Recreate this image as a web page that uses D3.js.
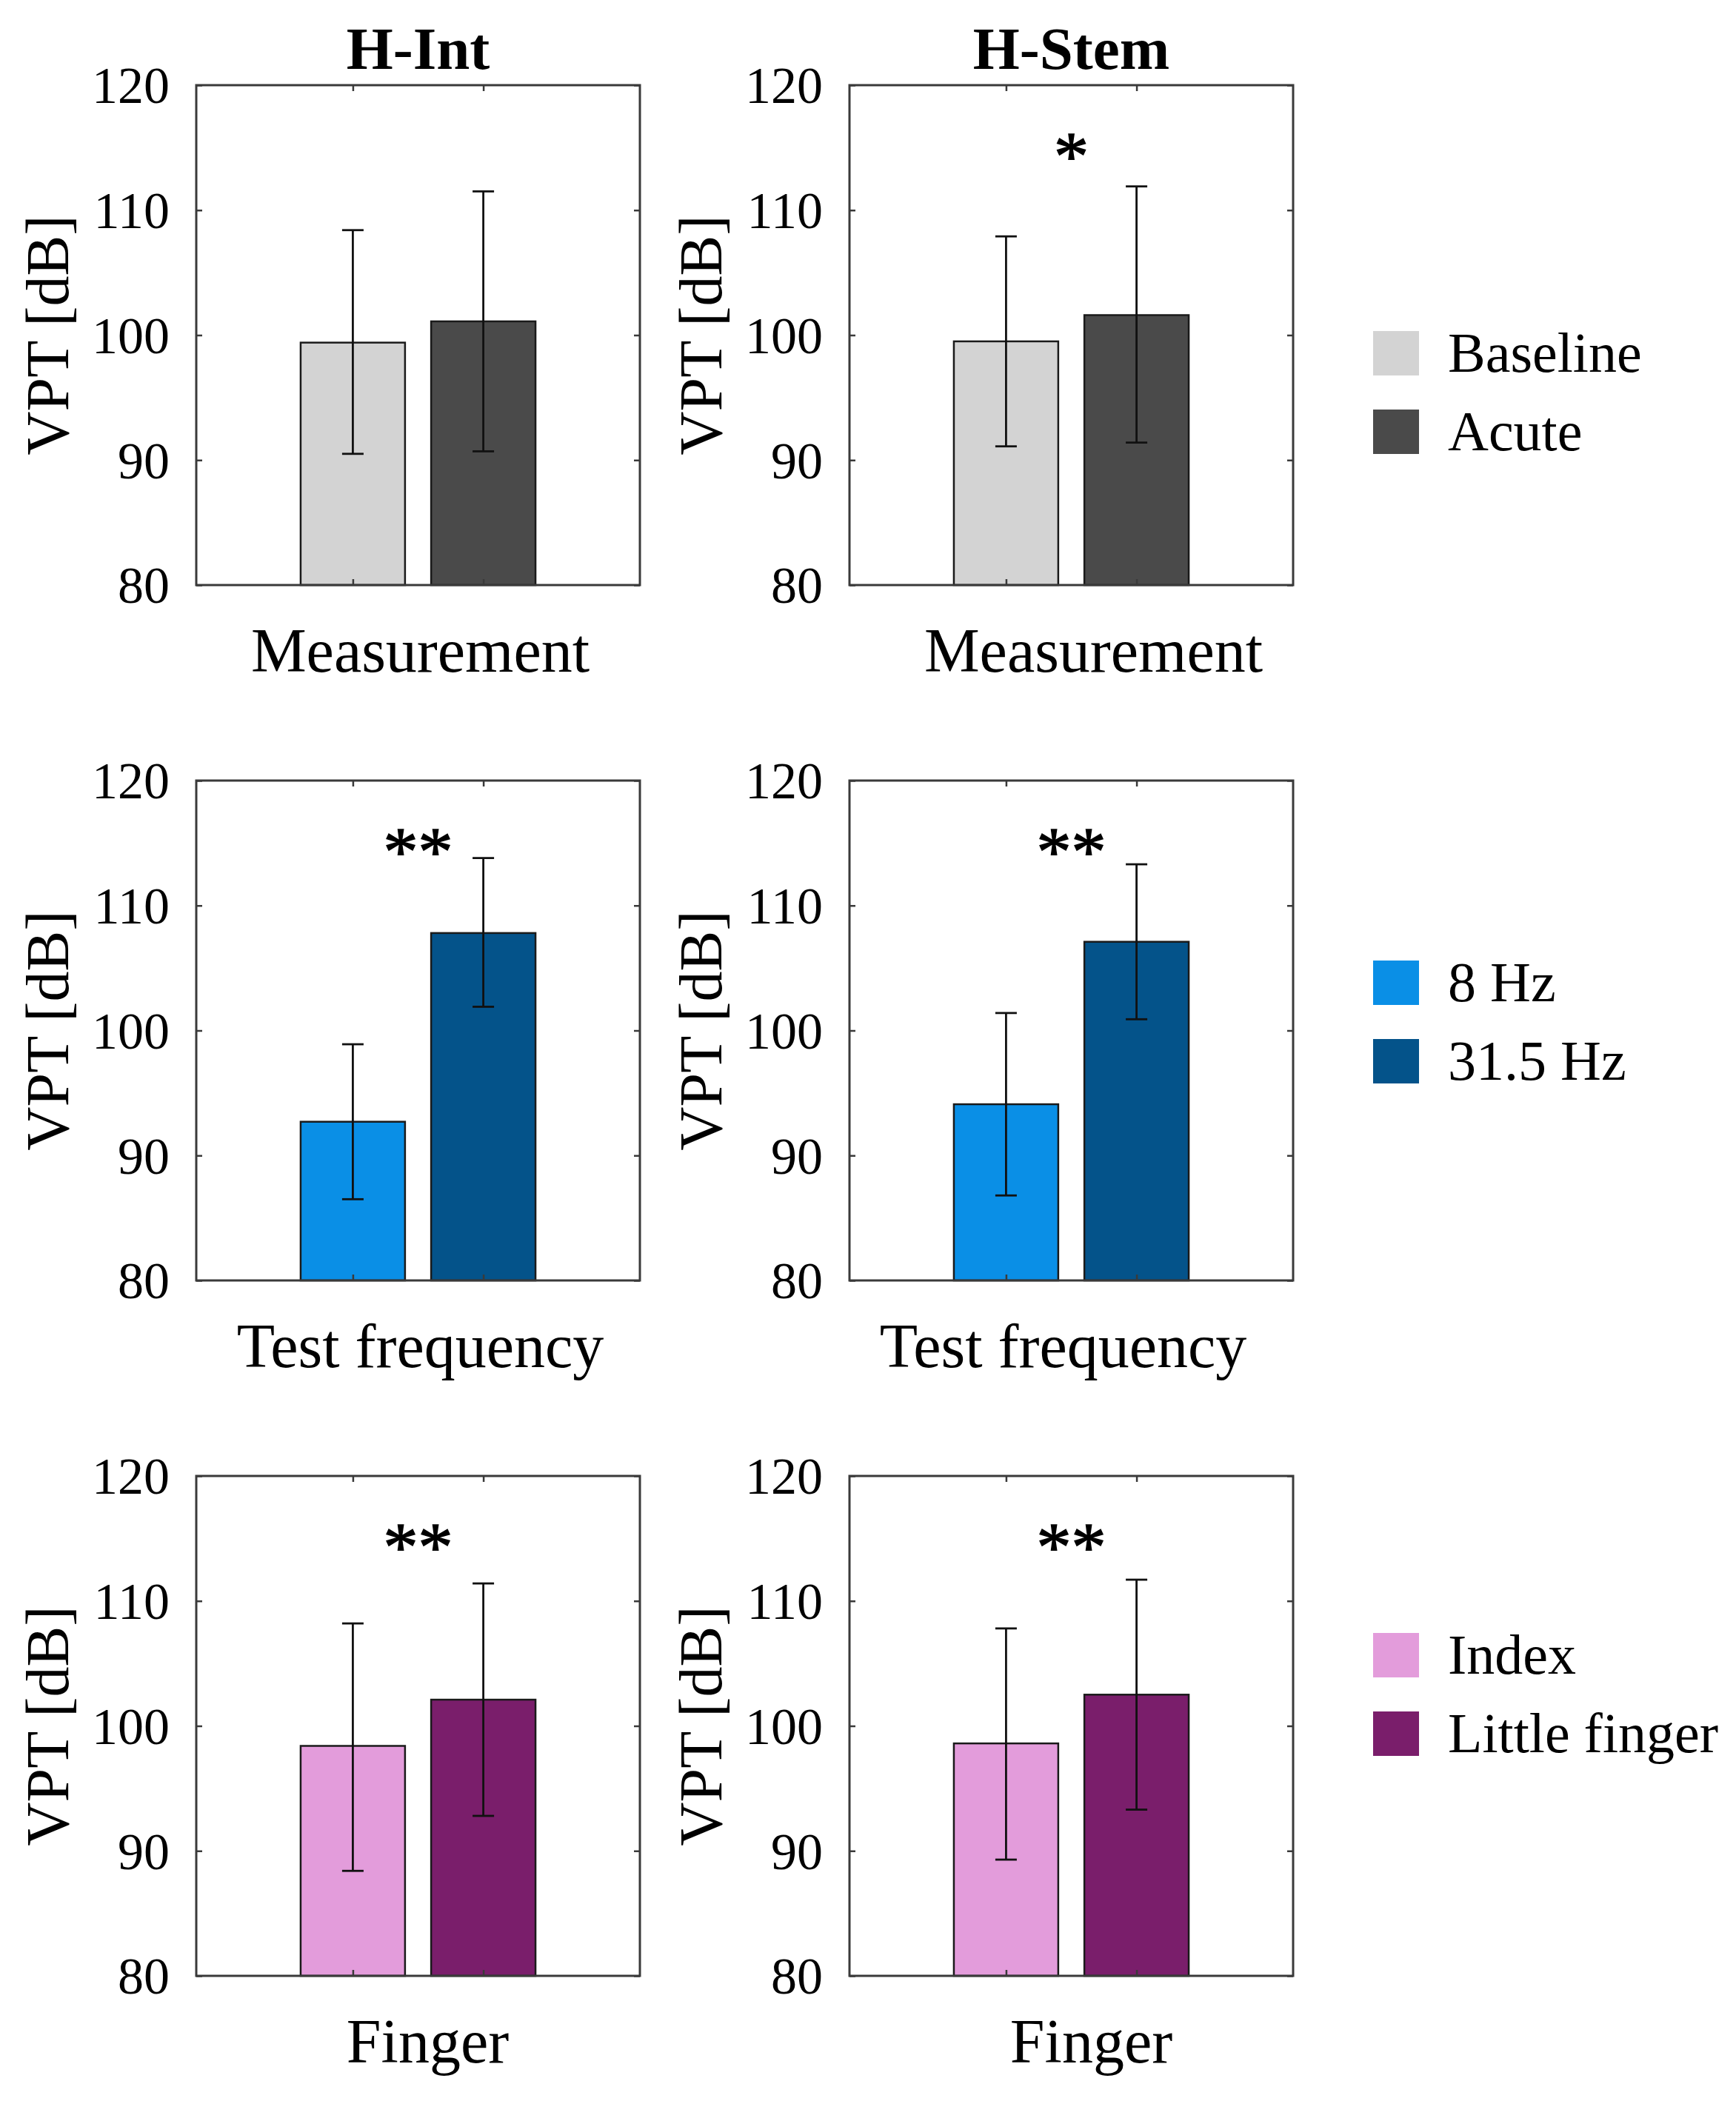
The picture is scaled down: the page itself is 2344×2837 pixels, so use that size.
<!DOCTYPE html>
<html>
<head>
<meta charset="utf-8">
<script src="https://cdn.jsdelivr.net/npm/d3@7"></script>
<style>
  html, body { margin: 0; padding: 0; background: #fff; }
  svg { display: block; }
  text { font-family: "Liberation Serif", "Times New Roman", serif; fill: #000; }
</style>
</head>
<body>
<svg id="chart" width="2344" height="2837"></svg>
<script>
// ---------------- DATA ----------------
const groups = ["H-Int", "H-Stem"];
const factors = ["Measurement", "Test frequency", "Finger"];
const seriesLabels = [["Baseline", "Acute"], ["8 Hz", "31.5 Hz"], ["Index", "Little finger"]];
const seriesColors = [["#d3d3d3", "#4a4a4a"], ["#0a8fe6", "#04538a"], ["#e39cdb", "#7a1e6b"]];
const yTicks = [80, 90, 100, 110, 120];

// mean values (rows = factor, cols = series)
const hIntMeans  = [[99.4, 101.1], [92.7, 107.8], [98.4, 102.1]];
const hIntLower  = [[90.5, 90.7],  [86.5, 101.9], [88.4, 92.8]];
const hIntUpper  = [[108.4, 111.5],[98.9, 113.8], [108.2, 111.4]];
const hStemMeans = [[99.5, 101.6], [94.1, 107.1], [98.6, 102.5]];
const hStemLower = [[91.1, 91.4],  [86.8, 100.9], [89.3, 93.3]];
const hStemUpper = [[107.9, 111.9],[101.4, 113.3],[107.8, 111.7]];
const hIntStars  = ["", "**", "**"];
const hStemStars = ["*", "**", "**"];
const starLevel = 115.1;

// ---------------- LAYOUT ----------------
const colLeft = [265, 1147];
const axW = 599;
const rowTop = [115, 1054, 1993];
const axH = 675;
const xLabelShift = [[3, 30], [3, -11], [13, 27]];
const legendCenters = [[477, 583], [1327, 1433], [2235, 2341]];
const legendSwatchX = 1854, legendTextX = 1955;
const serif = "'Liberation Serif', 'Times New Roman', serif";

const svg = d3.select("#chart");
svg.append("rect").attr("width", 2344).attr("height", 2837).attr("fill", "#fff");

const means = [hIntMeans, hStemMeans];
const lowers = [hIntLower, hStemLower];
const uppers = [hIntUpper, hStemUpper];
const stars = [hIntStars, hStemStars];

const axisColor = "#3a3a3a";

factors.forEach((factor, r) => {
  groups.forEach((grp, c) => {
    const x0 = colLeft[c], y0 = rowTop[r];
    const g = svg.append("g").attr("transform", `translate(${x0},${y0})`);
    const x = d3.scaleLinear().domain([-0.2, 3.2]).range([0, axW]);
    const y = d3.scaleLinear().domain([80, 120]).range([axH, 0]);
    const positions = [1, 2];
    const barW = x(0.8) - x(0);

    const data = positions.map((p, i) => ({
      pos: p,
      mean: means[c][r][i],
      lo: lowers[c][r][i],
      hi: uppers[c][r][i],
      color: seriesColors[r][i]
    }));

    // bars
    g.selectAll("rect.bar").data(data).enter().append("rect")
      .attr("class", "bar")
      .attr("x", d => x(d.pos) - barW / 2)
      .attr("width", barW)
      .attr("y", d => y(d.mean))
      .attr("height", d => y(80) - y(d.mean))
      .attr("fill", d => d.color)
      .attr("stroke", "#1a1a1a")
      .attr("stroke-width", 2.5);

    // error bars
    const capW = 29;
    const eb = g.selectAll("g.err").data(data).enter().append("g").attr("class", "err")
      .attr("stroke", "#111").attr("stroke-width", 2.8);
    eb.append("line").attr("x1", d => x(d.pos)).attr("x2", d => x(d.pos))
      .attr("y1", d => y(d.lo)).attr("y2", d => y(d.hi));
    eb.append("line").attr("x1", d => x(d.pos) - capW / 2).attr("x2", d => x(d.pos) + capW / 2)
      .attr("y1", d => y(d.hi)).attr("y2", d => y(d.hi));
    eb.append("line").attr("x1", d => x(d.pos) - capW / 2).attr("x2", d => x(d.pos) + capW / 2)
      .attr("y1", d => y(d.lo)).attr("y2", d => y(d.lo));

    // axes (MATLAB-like box with inward ticks)
    const tickLen = 8;
    const yAxisL = d3.axisLeft(y).tickValues(yTicks).tickSize(-tickLen).tickPadding(28 + tickLen).tickFormat(d3.format("d"));
    const gl = g.append("g").call(yAxisL).attr("font-family", null).attr("font-size", null);
    gl.select(".domain").remove();
    gl.selectAll("line").attr("stroke", axisColor).attr("stroke-width", 2.5);
    gl.selectAll("text")
      .style("font-family", serif)
      .style("font-size", "70px")
      .style("fill", "#000")
      .attr("dy", "0.34em");

    const yAxisR = d3.axisRight(y).tickValues(yTicks).tickSize(-tickLen).tickFormat("");
    const gr = g.append("g").attr("transform", `translate(${axW},0)`).call(yAxisR);
    gr.select(".domain").remove();
    gr.selectAll("line").attr("stroke", axisColor).attr("stroke-width", 2.5);

    const xAxisB = d3.axisBottom(x).tickValues(positions).tickSize(-tickLen).tickFormat("");
    const gb = g.append("g").attr("transform", `translate(0,${axH})`).call(xAxisB);
    gb.select(".domain").remove();
    gb.selectAll("line").attr("stroke", axisColor).attr("stroke-width", 2.5);

    const xAxisT = d3.axisTop(x).tickValues(positions).tickSize(-tickLen).tickFormat("");
    const gt = g.append("g").call(xAxisT);
    gt.select(".domain").remove();
    gt.selectAll("line").attr("stroke", axisColor).attr("stroke-width", 2.5);

    g.append("rect").attr("x", 0).attr("y", 0).attr("width", axW).attr("height", axH)
      .attr("fill", "none").attr("stroke", axisColor).attr("stroke-width", 3);

    // significance stars
    if (stars[c][r]) {
      g.append("text")
        .attr("x", x(1.5))
        .attr("y", y(starLevel) + 44)
        .attr("text-anchor", "middle")
        .style("font-family", serif)
        .style("font-size", "94px")
        .style("stroke", "#000")
        .style("stroke-width", "1.5px")
        .text(stars[c][r]);
    }

    // y label
    g.append("text")
      .attr("transform", `translate(${-173},${axH / 2}) rotate(-90)`)
      .attr("text-anchor", "middle")
      .style("font-family", serif)
      .style("font-size", "82px")
      .text("VPT [dB]");

    // x label
    g.append("text")
      .attr("x", axW / 2 + xLabelShift[r][c])
      .attr("y", axH + 117)
      .attr("text-anchor", "middle")
      .style("font-family", serif)
      .style("font-size", "84px")
      .text(factor);

    // column titles
    if (r === 0) {
      g.append("text")
        .attr("x", axW / 2)
        .attr("y", 93 - y0)
        .attr("text-anchor", "middle")
        .style("font-family", serif)
        .style("font-size", "81px")
        .style("font-weight", "bold")
        .text(grp);
    }
  });

  // legend
  const lg = svg.append("g");
  seriesLabels[r].forEach((lab, i) => {
    const cy = legendCenters[r][i];
    lg.append("rect").attr("x", legendSwatchX).attr("y", cy - 30)
      .attr("width", 62).attr("height", 60).attr("fill", seriesColors[r][i]);
    lg.append("text").attr("x", legendTextX).attr("y", cy + 25)
      .style("font-family", serif)
      .style("font-size", "76px").text(lab);
  });
});
</script>
</body>
</html>
